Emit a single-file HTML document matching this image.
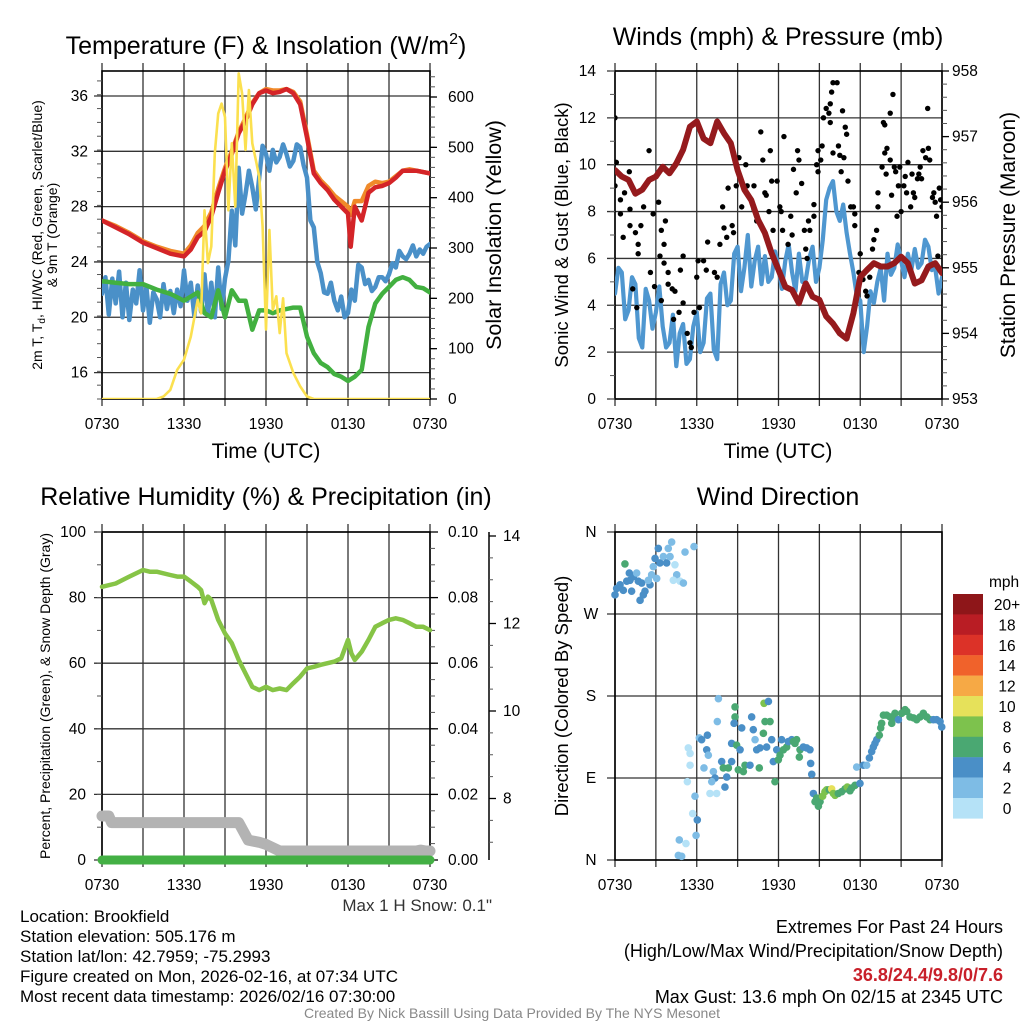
<!DOCTYPE html>
<html><head><meta charset="utf-8"><style>
html,body{margin:0;padding:0;background:#fff;}
svg{display:block;font-family:"Liberation Sans",Arial,sans-serif;}
</style></head><body>
<svg id="chart" width="1024" height="1024" viewBox="0 0 1024 1024" xmlns="http://www.w3.org/2000/svg">
<rect width="1024" height="1024" fill="#fff"/>
<text x="266" y="54" font-size="25" text-anchor="middle">Temperature (F) &amp; Insolation (W/m<tspan font-size="16" dy="-10">2</tspan><tspan dy="10">)</tspan></text>
<text x="778" y="45" font-size="25" text-anchor="middle">Winds (mph) &amp; Pressure (mb)</text>
<text x="266" y="505" font-size="25" text-anchor="middle">Relative Humidity (%) &amp; Precipitation (in)</text>
<text x="778" y="505" font-size="25" text-anchor="middle">Wind Direction</text>
<text x="266" y="458" font-size="21" text-anchor="middle">Time (UTC)</text>
<text x="778" y="458" font-size="21" text-anchor="middle">Time (UTC)</text>
<g transform="translate(42,235) rotate(-90)" font-size="14" text-anchor="middle">
<text y="0">2m T, T<tspan font-size="10" dy="3">d</tspan><tspan dy="-3">, HI/WC (Red, Green, Scarlet/Blue)</tspan></text>
<text y="15">&amp; 9m T (Orange)</text></g>
<text transform="translate(501,235) rotate(-90)" font-size="21.5" text-anchor="middle">Solar Insolation (Yellow)</text>
<text transform="translate(568,235) rotate(-90)" font-size="18.5" text-anchor="middle">Sonic Wind &amp; Gust (Blue, Black)</text>
<text transform="translate(1015,235) rotate(-90)" font-size="21" text-anchor="middle">Station Pressure (Maroon)</text>
<text transform="translate(50,696) rotate(-90)" font-size="14" text-anchor="middle">Percent, Precipitation (Green), &amp; Snow Depth (Gray)</text>
<text transform="translate(568,696) rotate(-90)" font-size="18.5" text-anchor="middle">Direction (Colored By Speed)</text>
<text x="492" y="911" font-size="17" fill="#333" text-anchor="end">Max 1 H Snow: 0.1"</text>
<g font-size="17">
<text x="20" y="922">Location: Brookfield</text>
<text x="20" y="942">Station elevation: 505.176 m</text>
<text x="20" y="962">Station lat/lon: 42.7959; -75.2993</text>
<text x="20" y="982">Figure created on Mon, 2026-02-16, at 07:34 UTC</text>
<text x="20" y="1002">Most recent data timestamp: 2026/02/16 07:30:00</text>
</g>
<g font-size="18" text-anchor="end">
<text x="1003" y="933">Extremes For Past 24 Hours</text>
<text x="1003" y="957">(High/Low/Max Wind/Precipitation/Snow Depth)</text>
<text x="1003" y="981" font-weight="bold" fill="#c8202a" font-size="18">36.8/24.4/9.8/0/7.6</text>
<text x="1003" y="1003">Max Gust: 13.6 mph On 02/15 at 2345 UTC</text>
</g>
<text x="512" y="1018" font-size="14" fill="#888" text-anchor="middle">Created By Nick Bassill Using Data Provided By The NYS Mesonet</text>
</svg>
<script>
// ---------- Data ----------
const timeTickLabels = ["0730","1330","1930","0130","0730"];
const tempTimes = [0,1,2,3,4,5,6,6.5,7,7.5,8,8.5,9,9.5,10,10.5,11,11.5,12,12.5,13,13.5,14,14.5,15,15.5,16,16.5,17,17.5,18,18.2,18.5,19,19.5,20,20.5,21,21.5,22,22.5,23,23.5,24];
const tempRed = [27.0,26.5,26.0,25.4,25.0,24.6,24.4,24.9,25.8,26.2,27.3,29.0,30.6,31.8,33.3,34.2,35.4,36.2,36.4,36.2,36.3,36.5,36.2,35.4,33.0,30.4,29.7,29.2,28.5,28.0,27.5,25.1,28.0,27.0,29.0,29.4,29.5,29.7,30.1,30.6,30.6,30.6,30.5,30.4];
const temp9m = [27.0,26.6,26.1,25.5,25.1,24.8,24.6,25.2,26.1,26.6,27.6,29.3,30.8,32.0,33.4,34.4,35.5,36.2,36.5,36.4,36.4,36.5,36.3,35.6,33.2,30.6,29.9,29.4,28.8,28.4,28.0,27.4,28.4,28.4,29.5,29.8,29.7,29.8,30.2,30.6,30.7,30.6,30.5,30.4];
const dewTimes = [0,1,2,3,4,5,6,7,7.5,8,8.5,9,9.5,10,10.5,11,11.5,12,12.5,13,14,14.5,15,15.5,16,16.5,17,17.5,18,18.5,19,19.5,20,20.5,21,21.5,22,22.5,23,23.5,24];
const dewGreen = [22.6,22.5,22.4,22.4,22.0,21.7,21.2,21.8,20.3,20.0,21.95,20.0,21.95,21.2,21.2,19.1,20.5,20.5,20.3,20.5,20.7,20.7,18.6,17.4,16.7,16.4,15.9,15.7,15.4,15.7,16.2,19.3,21.0,21.7,22.2,22.7,22.9,22.7,22.2,22.1,21.8];
const chillTimes = [0,0.25,0.5,0.75,1,1.25,1.5,1.75,2,2.25,2.5,2.75,3,3.25,3.5,3.75,4,4.25,4.5,4.75,5,5.25,5.5,5.75,6,6.25,6.5,6.75,7,7.25,7.5,7.75,8,8.25,8.5,8.75,9,9.25,9.5,9.75,10,10.25,10.5,10.75,11,11.25,11.5,11.75,12,12.25,12.5,12.75,13,13.25,13.5,13.75,14,14.25,14.5,14.75,15,15.25,15.5,15.75,16,16.25,16.5,16.75,17,17.25,17.5,17.75,18,18.25,18.5,18.75,19,19.25,19.5,19.75,20,20.25,20.5,20.75,21,21.25,21.5,21.75,22,22.25,22.5,22.75,23,23.25,23.5,23.75,24];
const chillBlue = [21.7,22.9,20.2,22.8,21.0,23.3,20.0,22.5,19.8,22.0,21.0,23.4,20.5,22.2,19.6,21.8,21.3,20.0,22.4,20.6,21.9,20.3,22.0,20.8,23.4,21.2,22.5,20.1,22.3,20.4,23.1,20.2,22.5,20.0,23.6,20.6,22.8,24.1,27.7,25.2,30.8,27.5,28.9,30.6,29.4,27.8,30.1,32.4,31.8,30.6,32.1,31.2,31.6,32.5,31.8,30.9,31.3,32.5,32.3,31.0,30.1,27.0,26.5,24.0,23.2,21.8,21.7,22.5,21.2,20.5,21.5,20.0,20.3,22.0,21.2,23.8,23.6,22.4,22.7,21.9,22.2,22.9,22.9,22.6,23.1,23.9,23.6,24.8,24.4,24.2,24.6,25.2,24.4,24.9,24.6,25.1,25.3,26.0,25.6];
const solarTimes = [0,4,4.5,5,5.5,6,6.5,7,7.25,7.5,7.75,8,8.25,8.5,8.75,9,9.25,9.5,9.75,10,10.25,10.5,10.75,11,11.25,11.5,11.75,12,12.25,12.5,12.75,13,13.25,13.5,14,14.5,15,15.5,24];
const solarValues = [0,0,5,18,58,78,124,197,170,375,270,303,488,567,587,560,375,508,382,647,607,495,614,508,475,442,343,138,336,177,204,131,200,91,52,25,5,0,0];
const windSpeed = [4.5,5.6,5.4,3.4,3.8,5.2,4.9,2.6,2.2,4.7,4.2,3.0,3.7,4.8,3.1,2.2,2.4,3.6,1.4,2.8,3.2,1.5,1.7,3.1,3.7,2.0,2.4,4.3,4.5,2.1,1.7,4.9,5.4,
4.0,4.2,6.2,6.5,4.6,5.6,7.0,4.8,5.9,6.5,4.9,6.1,5.0,5.2,6.3,5.6,4.7,5.9,6.6,5.4,4.6,6.2,5.0,5.1,6.0,6.5,5.0,5.6,6.8,8.5,9.0,9.3,8.0,7.6,8.3,7.1,6.2,5.4,4.4,4.2,2.0,3.1,4.6,4.1,5.0,5.6,4.2,6.2,5.3,5.6,6.6,5.9,5.2,6.2,5.5,6.4,5.6,5.8,6.8,6.5,5.5,5.6,4.5,5.2];
const windTimes = windSpeed.map((v,i)=>i*0.25);
const pressTimes = [0,0.5,1,1.5,2,2.5,3,3.5,4,4.5,5,5.5,6,6.5,7,7.5,8,8.5,9,9.5,10,10.5,11,11.5,12,12.5,13,13.5,14,14.5,15,15.5,16,16.5,17,17.5,18,18.5,19,19.5,20,20.5,21,21.5,22,22.5,23,23.5,24];
const pressValues = [956.49,956.39,956.34,956.13,956.19,956.34,956.39,956.54,956.44,956.59,956.8,957.15,957.23,956.97,956.9,957.23,957.05,956.9,956.49,956.19,956.03,955.73,955.53,955.22,954.97,954.71,954.66,954.46,954.76,954.56,954.51,954.26,954.15,954.0,953.92,954.31,954.86,954.97,955.07,955.02,955.02,955.07,955.17,955.07,954.76,954.81,955.02,955.07,954.92];
const gustTimes = [0,0.1,0,0.4,0.4,0.6,0.7,1.05,1.1,1.1,1.5,1.6,1.3,1.7,1.7,2.1,1.9,2.5,2.6,2.8,2.9,3.2,3.4,3.3,3.4,3.7,3.6,3.6,3.9,3.9,4.2,4.4,4.3,4.7,5.0,4.8,5.0,5.3,5.5,5.6,5.8,6.0,6.1,6.2,6.5,6.7,6.8,7.3,7.5,7.7,7.9,8.0,8.2,8.3,8.6,8.7,8.9,9.1,9.3,9.6,9.7,10.2,10.2,10.4,10.7,10.85,11.0,11.1,11.3,11.4,11.5,11.6,11.9,12.1,12.2,12.4,12.3,12.7,12.9,13.0,13.1,13.3,13.4,13.5,13.7,13.9,14.0,14.1,14.2,14.3,14.6,14.6,14.8,14.9,15.1,14.9,15.2,15.3,15.5,15.7,15.8,15.9,16.0,15.8,16.3,16.0,16.4,16.5,16.6,16.8,16.7,16.9,17.0,17.1,17.3,17.5,17.6,17.6,18.0,17.9,18.2,18.4,18.5,18.7,18.9,19.0,19.2,19.3,19.3,19.6,19.7,19.8,19.8,19.96,19.9,20.2,20.4,20.2,20.3,20.5,20.6,20.7,20.8,20.9,21.0,21.2,21.3,21.4,21.5,21.7,21.8,21.9,22.0,22.2,22.3,22.4,22.5,22.6,22.8,22.95,23.0,23.1,23.3,23.4,23.5,23.6,23.7,23.8,23.9,24.0];
const gustValues = [12.0,10.1,9.1,8.5,7.9,6.9,8.8,9.7,8.1,7.4,7.1,3.9,4.7,6.6,6.2,8.2,7.4,10.6,5.4,7.9,4.8,8.4,7.2,6.1,4.2,7.6,6.6,5.8,5.4,4.9,4.7,4.6,3.4,3.7,6.1,5.5,4.1,2.8,2.4,2.2,3.7,5.2,5.9,3.9,5.9,5.5,6.7,5.4,5.2,6.6,8.2,7.3,6.9,9.0,7.4,7.1,9.1,10.3,8.2,10.0,9.1,9.1,8.1,7.6,11.4,10.2,8.8,8.7,8.0,10.6,9.3,7.2,9.3,8.2,8.0,11.2,7.2,6.6,7.8,7.0,9.8,8.8,10.6,10.2,9.2,7.2,6.4,6.0,7.6,7.2,8.3,7.8,10.0,9.7,10.2,10.6,10.8,12.0,12.4,12.2,12.6,13.1,13.5,11.8,13.5,10.5,10.8,10.4,9.7,10.3,12.3,11.6,11.3,9.3,8.2,8.2,7.9,7.4,6.2,5.4,5.1,4.6,4.4,5.2,6.4,6.8,7.2,8.2,8.8,9.9,11.8,11.7,10.5,10.7,9.6,10.2,13.0,12.2,8.7,9.9,9.7,7.8,9.1,9.9,8.0,9.1,9.5,8.8,10.1,8.2,9.6,8.8,8.6,9.4,9.6,9.9,9.4,10.6,10.3,12.4,10.7,10.2,8.6,8.8,8.4,7.8,6.1,9.0,8.5,8.2];
const rhTimes = [0,1,2,3,3.5,4,5,5.5,6,6.5,7,7.25,7.5,7.75,8,8.5,9,9.5,10,10.5,11,11.5,12,12.5,13,13.5,14,14.5,15,15.5,16,16.5,17,17.5,18,18.25,18.5,19,19.5,20,20.5,21,21.5,22,22.5,23,23.5,24];
const rhValues = [83.3,84.3,86.4,88.4,87.9,87.9,86.9,86.4,86.4,84.9,83.3,82.3,78.3,80.3,79.3,73.2,69.1,66.1,61.0,56.9,52.8,51.8,52.8,51.8,52.3,51.8,53.9,55.9,58.4,58.9,59.5,60.0,60.5,61.5,67.1,63.0,61.0,63.5,67.1,71.1,72.2,73.2,73.7,73.2,72.2,71.1,71.1,70.1];
const snowTimes = [0,0.5,0.7,10,10.7,11.5,12,13,23,23.3,23.7,24];
const snowDepth = [7.6,7.6,7.45,7.45,7.05,7.0,6.95,6.8,6.8,6.82,6.8,6.8];
const precipTimes = [0,24];
const precipValues = [0,0];
const dirTimes = [0.0,0.12,0.37,0.61,0.86,1.10,1.22,1.35,1.59,1.71,1.96,2.08,2.20,1.84,2.57,2.45,2.69,2.81,2.94,3.18,3.30,3.55,3.79,3.91,4.16,4.04,4.40,4.53,4.28,4.77,5.02,5.14,5.80,0.73,1.05,3.06,
4.65,4.89,4.72,5.21,5.95,6.04,5.70,5.87,5.31,5.51,5.38,5.51,6.19,6.36,6.73,6.78,6.85,6.53,7.22,7.34,7.10,6.97,7.46,7.59,7.51,7.83,7.95,8.32,8.20,8.07,8.56,8.56,8.81,8.81,8.74,8.93,9.05,9.18,9.42,9.30,9.54,9.91,10.03,10.15,10.28,10.40,10.59,10.64,10.94,10.89,11.01,11.13,11.26,11.38,11.50,11.62,11.74,11.87,11.99,12.11,12.23,12.36,12.60,12.72,12.97,13.09,13.21,13.33,13.53,13.58,13.82,14.07,14.31,14.36,14.44,
14.56,14.68,14.80,14.93,15.05,15.24,15.41,15.54,15.73,15.90,16.03,16.15,16.39,16.64,16.88,17.05,17.25,17.37,17.62,17.74,17.98,18.23,18.47,18.67,18.84,18.96,19.08,19.21,19.40,19.50,19.57,19.70,19.94,20.19,20.31,20.43,20.55,20.80,21.04,21.29,21.41,21.65,21.90,22.14,22.39,22.63,22.88,23.12,23.37,23.61,23.86,23.98];
const dirValues = [291,298,302,296,306,307,295,311,315,306,304,291,295,285,302,307,313,322,331,342,326,333,326,342,349,333,324,313,307,306,304,338,344,325,315,309,
5,4,22,18,27,44,51,70,86,104,123,117,134,132,121,137,115,101,97,90,86,73,73,177,152,108,101,101,91,80,108,128,168,157,150,126,99,121,97,145,104,104,157,143,132,121,101,123,172,139,152,124,174,152,132,108,86,121,110,115,132,121,124,130,132,130,128,132,113,121,124,123,121,106,94,
73,64,68,59,64,70,75,77,77,78,73,71,73,75,78,80,76,79,82,102,84,104,104,112,119,124,128,132,137,145,150,159,159,157,150,156,161,154,161,165,163,157,156,154,157,161,157,154,154,154,152,146];
const dirSpeeds = [4,4,4,4,4,4,4,4,2.2,4,4,4,4,4,4,2.2,2.2,2.2,4,4,4,2.2,4,2.2,2.2,2.2,0.8,2.2,0.8,0.8,2.2,2.2,2.2,6,4,2.2,
2.2,2.2,2.2,0.8,2.2,4,0.8,2.2,0.8,0.8,0.8,0.8,2.2,4,4,4,2.2,2.2,2.2,4,2.2,0.8,0.8,2.2,2.2,4,6,6,4,4,4,4,6,6,4,6,6,4,6,4,6,4,4,4,2.2,4,6,4,8,6,6,4,4,6,4,4,6,4,6,6,4,6,6,4,4,6,6,6,6,6,4,4,4,4,4,
4,6,6,6,6,8,8,8,6,10,8,8,6,6,6,8,6,6,6,2.2,4,4,2.2,4,4,4,4,4,6,6,6,6,6,6,6,6,6,4,6,6,6,6,6,6,6,6,6,6,4,4,4,4];
const speedLabels = ["20+","18","16","14","12","10","8","6","4","2","0"];
const speedColors = ["#8e1619","#b91d24","#dc3228","#f0622b","#f6a945","#e6e15a","#7dc24d","#4aa872","#4a8fc7","#7ebce5","#b5e2f7"];
const tempTicks = [16,20,24,28,32,36];
const solarTicks = [0,100,200,300,400,500,600];
const windTicks = [0,2,4,6,8,10,12,14];
const pressTicks = [953,954,955,956,957,958];
const rhTicks = [0,20,40,60,80,100];
const precipTicks = ["0.00","0.02","0.04","0.06","0.08","0.10"];
const snowTicks = [8,10,12,14];
const dirTicks = ["N","E","S","W","N"];

// ---------- helpers ----------
const NS = "http://www.w3.org/2000/svg";
const svg = document.getElementById("chart");
const FS = 15.5;
function mk(tag, attrs, parent){ const e=document.createElementNS(NS,tag); for(const k in attrs) e.setAttribute(k,attrs[k]); (parent||svg).appendChild(e); return e; }
function txt(s, attrs, parent){ const e=mk("text",attrs,parent); e.textContent=s; return e; }
function xScale(x0,x1){ return t => x0 + t/24*(x1-x0); }
function linePath(ts, vs, fx, fy){ return ts.map((t,i)=>(i?"L":"M")+fx(t).toFixed(1)+","+fy(vs[i]).toFixed(1)).join(""); }

function frame(name, x0, x1, y0, y1, hTickYs){
  const g = mk("g",{});
  
  
  const fx = xScale(x0,x1);
  for(let k=0;k<=8;k++){
    const x = fx(k*3);
    const l = mk("line",{x1:x,x2:x,y1:y0-8,y2:y1+7,stroke:"#333","stroke-width":1.3},g);
    
    
  }
  hTickYs.forEach(y=>{
    const l = mk("line",{x1:x0-8,x2:x1,y1:y,y2:y,stroke:"#333","stroke-width":1.3},g);
    
    
  });
  const r = mk("rect",{x:x0,y:y0,width:x1-x0,height:y1-y0,fill:"none",stroke:"#000","stroke-width":1.6},g);
  
  
  timeTickLabels.forEach((s,i)=>{
    const t = txt(s,{x:fx(i*6),y:y1+30,"font-size":FS,"text-anchor":"middle"},g);
    
    
  });
  return {g, fx};
}
function minorTicks(g, x, y0, y1, step, dir){
  for(let y=y1; y>=y0-0.1; y-=step){ mk("line",{x1:x,x2:x+dir*5,y1:y,y2:y,stroke:"#555","stroke-width":1},g); }
}
function addPath(g, d, color, w, name, cap){
  const p = mk("path",{d:d,fill:"none",stroke:color,"stroke-width":w,"stroke-linejoin":"round","stroke-linecap":cap||"round"},g);
  
  
  return p;
}

// ---------- Panel 1: temperature ----------
(function(){
  const yT = v => 96 + (36-v)*13.83;
  const yS = v => 399 - v*0.5033;
  const {g, fx} = frame("temperature-plot", 102, 430, 71, 399, tempTicks.map(yT));
  minorTicks(g, 102, 71, 399, 13.83, -1);
  minorTicks(g, 430, 71, 399, 10.07, 1);
  tempTicks.forEach(v=>{ const t=txt(String(v),{x:88,y:yT(v)+5,"font-size":FS,"text-anchor":"end"},g);
    
     });
  solarTicks.forEach(v=>{ mk("line",{x1:430,x2:437,y1:yS(v),y2:yS(v),stroke:"#000","stroke-width":1.3},g);
    const t=txt(String(v),{x:448,y:yS(v)+5,"font-size":FS},g);
    
     });
  const clip = mk("clipPath",{id:"c1"},g); mk("rect",{x:102,y:71,width:328,height:328},clip);
  const sg = mk("g",{"clip-path":"url(#c1)"},g);
  addPath(sg, linePath(chillTimes, chillBlue, fx, yT), "#4a90c8", 4.5, "heat-index-wind-chill-line");
  addPath(sg, linePath(dewTimes, dewGreen, fx, yT), "#42b040", 4.5, "dewpoint-line");
  addPath(sg, linePath(tempTimes, temp9m, fx, yT), "#f08a2a", 4.5, "temperature-9m-line");
  addPath(sg, linePath(tempTimes, tempRed, fx, yT), "#d42428", 4.5, "temperature-2m-line");
  addPath(sg, linePath(solarTimes, solarValues, fx, yS), "#fbe04f", 2.6, "solar-insolation-line");
})();

// ---------- Panel 2: winds ----------
(function(){
  const yW = v => 399 - v*23.43;
  const yP = v => 399 - (v-953)*65.6;
  const {g, fx} = frame("wind-plot", 615, 942, 71, 399, windTicks.map(yW));
  minorTicks(g, 615, 71, 399, 23.43, -1);
  minorTicks(g, 942, 71, 399, 13.12, 1);
  windTicks.forEach(v=>{ const t=txt(String(v),{x:596,y:yW(v)+5,"font-size":FS,"text-anchor":"end"},g);
    
     });
  pressTicks.forEach(v=>{ mk("line",{x1:942,x2:949,y1:yP(v),y2:yP(v),stroke:"#000","stroke-width":1.3},g);
    const t=txt(String(v),{x:952,y:yP(v)+5,"font-size":FS},g);
    
     });
  const clip = mk("clipPath",{id:"c2"},g); mk("rect",{x:615,y:71,width:327,height:328},clip);
  const sg = mk("g",{"clip-path":"url(#c2)"},g);
  addPath(sg, linePath(windTimes, windSpeed, fx, yW), "#4f97d0", 4.2, "sonic-wind-line");
  gustTimes.forEach((t,i)=>{
    const c = mk("circle",{cx:fx(t),cy:yW(gustValues[i]),r:2.7,fill:"#000"},sg);
    
    
  });
  addPath(sg, linePath(pressTimes, pressValues, fx, yP), "#951a1d", 6, "pressure-line");
})();

// ---------- Panel 3: humidity ----------
(function(){
  const yR = v => 860 - v*3.28;
  const yPr = v => 860 - v*3280;
  const ySn = v => 536 + (14-v)*43.75;
  const {g, fx} = frame("humidity-plot", 102, 430, 532, 860, rhTicks.map(yR));
  minorTicks(g, 102, 532, 860, 32.8, -1);
  minorTicks(g, 430, 532, 860, 16.4, 1);
  rhTicks.forEach(v=>{ const t=txt(String(v),{x:86,y:yR(v)+5,"font-size":FS,"text-anchor":"end"},g);
    
     });
  precipTicks.forEach(s=>{ const y=yPr(parseFloat(s)); mk("line",{x1:430,x2:438,y1:y,y2:y,stroke:"#000","stroke-width":1.3},g);
    const t=txt(s,{x:448,y:y+5,"font-size":FS},g);
    
     });
  const ax = mk("line",{x1:489,x2:489,y1:532,y2:860,stroke:"#000","stroke-width":1.5},g);
  
  
  for(let v=7; v<=14.01; v+=0.5){ mk("line",{x1:489,x2:493,y1:ySn(v),y2:ySn(v),stroke:"#555","stroke-width":1},g); }
  snowTicks.forEach(v=>{ mk("line",{x1:489,x2:496,y1:ySn(v),y2:ySn(v),stroke:"#000","stroke-width":1.3},g);
    const t=txt(String(v),{x:503,y:ySn(v)+5,"font-size":FS},g);
    
     });
  addPath(g, linePath(snowTimes, snowDepth, fx, ySn), "#b3b3b3", 11, "snow-depth-line");
  addPath(g, linePath(precipTimes, precipValues, fx, yPr), "#43b044", 9, "precipitation-line");
  addPath(g, linePath(rhTimes, rhValues, fx, yR), "#86c446", 4.5, "relative-humidity-line");
})();

// ---------- Panel 4: wind direction ----------
(function(){
  const yD = d => 860 - d*0.9111;
  const {g, fx} = frame("direction-plot", 615, 942, 532, 860, [0,90,180,270,360].map(yD));
  dirTicks.forEach((s,i)=>{ const t=txt(s,{x:591,y:yD(i*90)+5,"font-size":FS,"text-anchor":"middle"},g);
    
     });
  dirTimes.forEach((t,i)=>{
    const bin = Math.min(10, Math.round(dirSpeeds[i]/2));
    const c = mk("circle",{cx:fx(t),cy:yD(dirValues[i]),r:3.8,fill:speedColors[10-bin]},g);
    
    
  });
  const lg = mk("g",{},g);
  
  
  const u = txt("mph",{x:989,y:587,"font-size":FS},lg);
  
  
  speedLabels.forEach((s,i)=>{
    const y = 594 + i*20.4;
    const r = mk("rect",{x:953,y:y,width:30,height:20.6,fill:speedColors[i]},lg);
    
    
    const t = txt(s,{x:1007,y:y+16,"font-size":FS,"text-anchor":"middle"},lg);
    
    
  });
})();
</script>
</body></html>
